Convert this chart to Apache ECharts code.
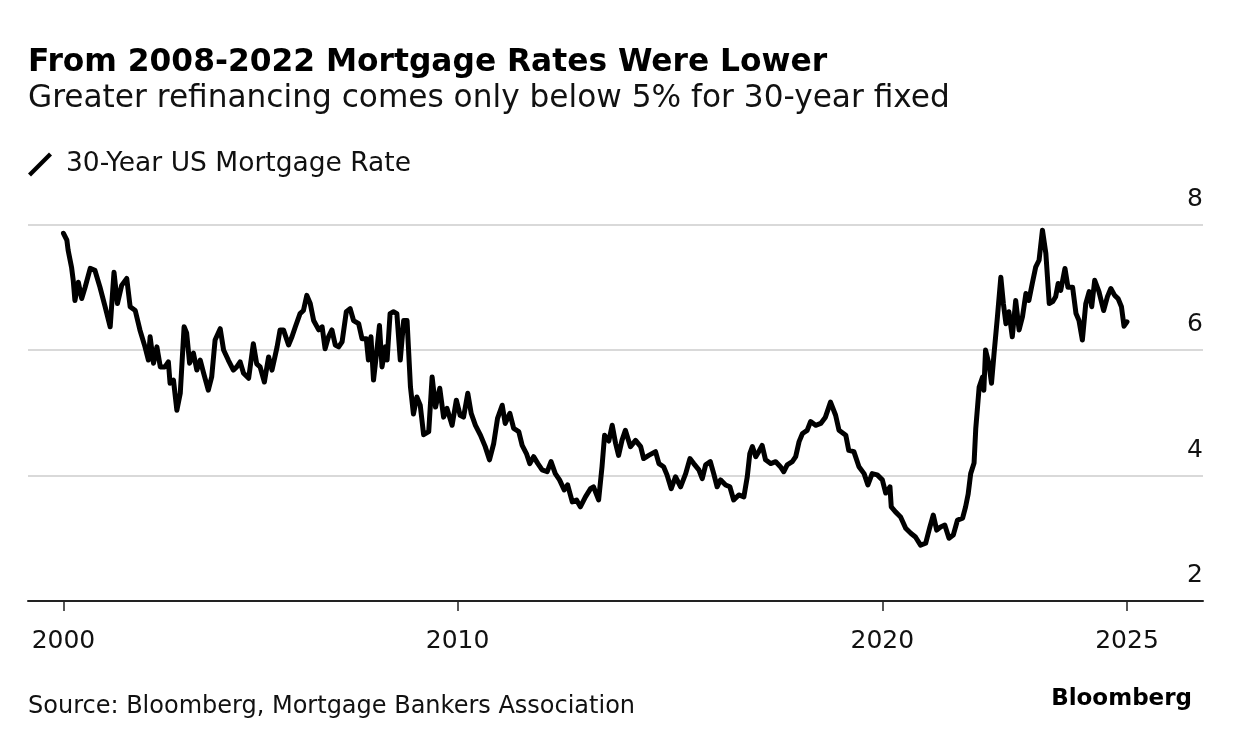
<!DOCTYPE html>
<html><head><meta charset="utf-8">
<script src="https://cdn.jsdelivr.net/npm/echarts@6/dist/echarts.min.js"></script>
<style>html,body{margin:0;padding:0;background:#fff}#c{width:1233px;height:750px}</style>
</head><body><div id="c"></div>
<script>
const titleText = 'From 2008-2022 Mortgage Rates Were Lower';
const subtitleText = 'Greater refinancing comes only below 5% for 30-year fixed';
const seriesName = '30-Year US Mortgage Rate';
const sourceText = 'Source: Bloomberg, Mortgage Bankers Association';
const brandText = 'Bloomberg';
const yTicks = [2, 4, 6, 8];
const xTickYears = [2010, 2020];
// decimal years
const dates = [
2000.72,2000.80,2000.83,2000.91,2000.95,2000.99,2001.07,2001.15,2001.23,2001.35,
2001.46,2001.58,2001.70,2001.82,2001.91,2001.99,2002.09,2002.21,2002.29,2002.41,
2002.52,2002.64,2002.72,2002.76,2002.84,2002.92,2003.00,2003.11,2003.19,2003.23,
2003.31,2003.39,2003.47,2003.56,2003.62,2003.69,2003.78,2003.86,2003.94,2004.02,
2004.13,2004.21,2004.29,2004.41,2004.49,2004.60,2004.72,2004.80,2004.88,2004.96,
2005.08,2005.19,2005.27,2005.35,2005.45,2005.55,2005.63,2005.75,2005.82,2005.90,
2006.02,2006.10,2006.18,2006.29,2006.37,2006.45,2006.53,2006.61,2006.73,2006.81,
2006.88,2006.96,2007.04,2007.12,2007.20,2007.28,2007.38,2007.47,2007.55,2007.67,
2007.75,2007.85,2007.90,2007.96,2008.02,2008.10,2008.16,2008.22,2008.30,2008.34,
2008.41,2008.49,2008.57,2008.65,2008.73,2008.81,2008.89,2008.96,2009.04,2009.12,
2009.20,2009.32,2009.40,2009.48,2009.58,2009.67,2009.75,2009.87,2009.97,2010.06,
2010.14,2010.24,2010.32,2010.42,2010.54,2010.65,2010.75,2010.85,2010.94,2011.05,
2011.12,2011.23,2011.32,2011.44,2011.52,2011.62,2011.70,2011.79,2011.89,2011.99,
2012.11,2012.20,2012.30,2012.40,2012.51,2012.59,2012.70,2012.80,2012.89,2013.01,
2013.13,2013.20,2013.32,2013.40,2013.46,2013.56,2013.64,2013.72,2013.79,2013.87,
2013.95,2014.07,2014.19,2014.31,2014.38,2014.50,2014.66,2014.74,2014.85,2014.93,
2015.03,2015.13,2015.25,2015.37,2015.47,2015.56,2015.68,2015.76,2015.84,2015.95,
2016.03,2016.11,2016.19,2016.31,2016.41,2016.50,2016.62,2016.74,2016.82,2016.88,
2016.94,2017.02,2017.09,2017.17,2017.25,2017.37,2017.49,2017.60,2017.68,2017.76,
2017.88,2017.96,2018.04,2018.12,2018.23,2018.31,2018.43,2018.55,2018.66,2018.78,
2018.90,2018.98,2019.14,2019.21,2019.33,2019.45,2019.57,2019.66,2019.76,2019.88,
2020.00,2020.08,2020.18,2020.21,2020.31,2020.43,2020.55,2020.67,2020.78,2020.90,
2021.02,2021.12,2021.20,2021.28,2021.37,2021.47,2021.57,2021.67,2021.77,2021.89,
2021.96,2022.02,2022.08,2022.16,2022.20,2022.28,2022.36,2022.39,2022.43,2022.51,
2022.57,2022.63,2022.71,2022.79,2022.85,2022.91,2022.98,2023.06,2023.14,2023.22,
2023.30,2023.38,2023.45,2023.53,2023.61,2023.69,2023.77,2023.85,2023.93,2024.01,
2024.08,2024.14,2024.20,2024.30,2024.37,2024.48,2024.56,2024.63,2024.71,2024.79,
2024.87,2024.93,2025.00,2025.10,2025.21,2025.30,2025.38,2025.47,2025.55,2025.63,
2025.69,2025.76
];
const rates = [
7.86,7.75,7.59,7.32,7.11,6.79,7.08,6.82,7.00,7.30,
7.27,7.00,6.69,6.37,7.24,6.74,7.03,7.14,6.69,6.63,
6.32,6.05,5.84,6.21,5.79,6.05,5.73,5.73,5.81,5.47,
5.52,5.04,5.31,6.37,6.27,5.79,5.95,5.68,5.84,5.63,
5.36,5.57,6.16,6.34,6.00,5.84,5.68,5.73,5.81,5.63,
5.55,6.10,5.78,5.73,5.49,5.89,5.68,6.05,6.32,6.32,
6.08,6.21,6.37,6.58,6.63,6.87,6.74,6.47,6.32,6.37,
6.02,6.21,6.32,6.08,6.05,6.13,6.61,6.66,6.47,6.42,
6.18,6.18,5.84,6.21,5.52,6.00,6.39,5.73,6.05,5.84,
6.58,6.61,6.58,5.84,6.47,6.47,5.41,4.98,5.25,5.12,
4.65,4.70,5.57,5.09,5.39,4.93,5.07,4.80,5.20,4.96,
4.93,5.31,4.99,4.80,4.64,4.46,4.25,4.51,4.91,5.12,
4.83,4.99,4.75,4.70,4.48,4.35,4.19,4.30,4.19,4.09,
4.06,4.22,4.03,3.93,3.77,3.85,3.58,3.61,3.50,3.66,
3.79,3.82,3.61,4.14,4.64,4.55,4.80,4.51,4.32,4.56,
4.72,4.46,4.56,4.46,4.27,4.32,4.38,4.19,4.14,4.01,
3.79,3.98,3.82,4.03,4.27,4.19,4.09,3.95,4.17,4.22,
4.03,3.82,3.93,3.85,3.82,3.61,3.69,3.66,3.98,4.35,
4.46,4.30,4.38,4.48,4.25,4.19,4.22,4.14,4.06,4.17,
4.22,4.30,4.54,4.67,4.72,4.86,4.80,4.83,4.93,5.17,
4.96,4.72,4.64,4.40,4.38,4.14,4.03,3.85,4.03,4.01,
3.93,3.72,3.82,3.50,3.42,3.34,3.16,3.08,3.02,2.89,
2.92,3.18,3.37,3.13,3.18,3.21,3.00,3.05,3.29,3.32,
3.50,3.70,4.03,4.20,4.75,5.41,5.57,5.36,6.00,5.78,
5.47,5.94,6.53,7.16,6.74,6.42,6.61,6.21,6.79,6.32,
6.53,6.90,6.79,7.06,7.32,7.43,7.91,7.54,6.74,6.77,
6.85,7.06,6.95,7.30,7.00,7.00,6.58,6.47,6.16,6.74,
6.93,6.69,7.11,6.93,6.63,6.85,6.98,6.87,6.82,6.69,
6.38,6.45
];

const FONT = '"DejaVu Sans", "Liberation Sans", sans-serif';
const seriesData = dates.map((d, i) => [d, rates[i]]);
const xTickValues = [dates[0]].concat(xTickYears, [dates[dates.length - 1]]);

const chart = echarts.init(document.getElementById('c'), null, {renderer: 'canvas'});
chart.setOption({
  animation: false,
  backgroundColor: '#ffffff',
  title: [
    {text: titleText, left: 28, top: 47, padding: 0,
     textStyle: {fontFamily: FONT, fontSize: 31.3, fontWeight: 'bold', color: '#000'}},
    {text: subtitleText, left: 28, top: 83, padding: 0,
     textStyle: {fontFamily: FONT, fontSize: 31.2, fontWeight: 'normal', color: '#111'}}
  ],
  legend: {
    left: 28, top: 151, itemWidth: 24, itemHeight: 24, selectedMode: false, padding: 0,
    icon: 'path://M0,21 L21,0 L24,3 L3,24 Z',
    textStyle: {fontFamily: FONT, fontSize: 26.5, color: '#111', padding: [0, 0, 0, 9]},
    data: [seriesName]
  },
  grid: {left: 28, right: 30, top: 224.5, bottom: 149, containLabel: false},
  xAxis: {
    type: 'value', min: 1999.885, max: 2027.55, z: 5,
    axisLine: {show: true, lineStyle: {color: '#222', width: 2}},
    axisTick: {show: true, customValues: xTickValues, length: 10, lineStyle: {color: '#222', width: 1.5}},
    axisLabel: {customValues: xTickValues, margin: 28, fontFamily: FONT, fontSize: 25, color: '#111',
      formatter: v => String(Math.floor(v + 1e-6))},
    splitLine: {show: false}
  },
  yAxis: {
    type: 'value', position: 'right', min: yTicks[0], max: yTicks[yTicks.length - 1], interval: 2,
    axisLine: {show: false}, axisTick: {show: false},
    splitLine: {show: true, lineStyle: {color: '#d9d9d9', width: 2}},
    axisLabel: {inside: true, margin: 0, fontFamily: FONT, fontSize: 25, color: '#111',
      verticalAlign: 'bottom', padding: [0, 0, 13, 0]}
  },
  series: [{
    name: seriesName, type: 'line', data: seriesData, showSymbol: false,
    lineStyle: {color: '#000', width: 5, join: 'round', cap: 'round'},
    itemStyle: {color: '#000'}, z: 3
  }],
  graphic: [
    {type: 'text', left: 28, top: 695,
     style: {text: sourceText, font: '24px ' + FONT, fill: '#111'}},
    {type: 'text', right: 41, top: 688,
     style: {text: brandText, font: 'bold 23px ' + FONT, fill: '#000'}}
  ]
});
</script>
</body></html>
